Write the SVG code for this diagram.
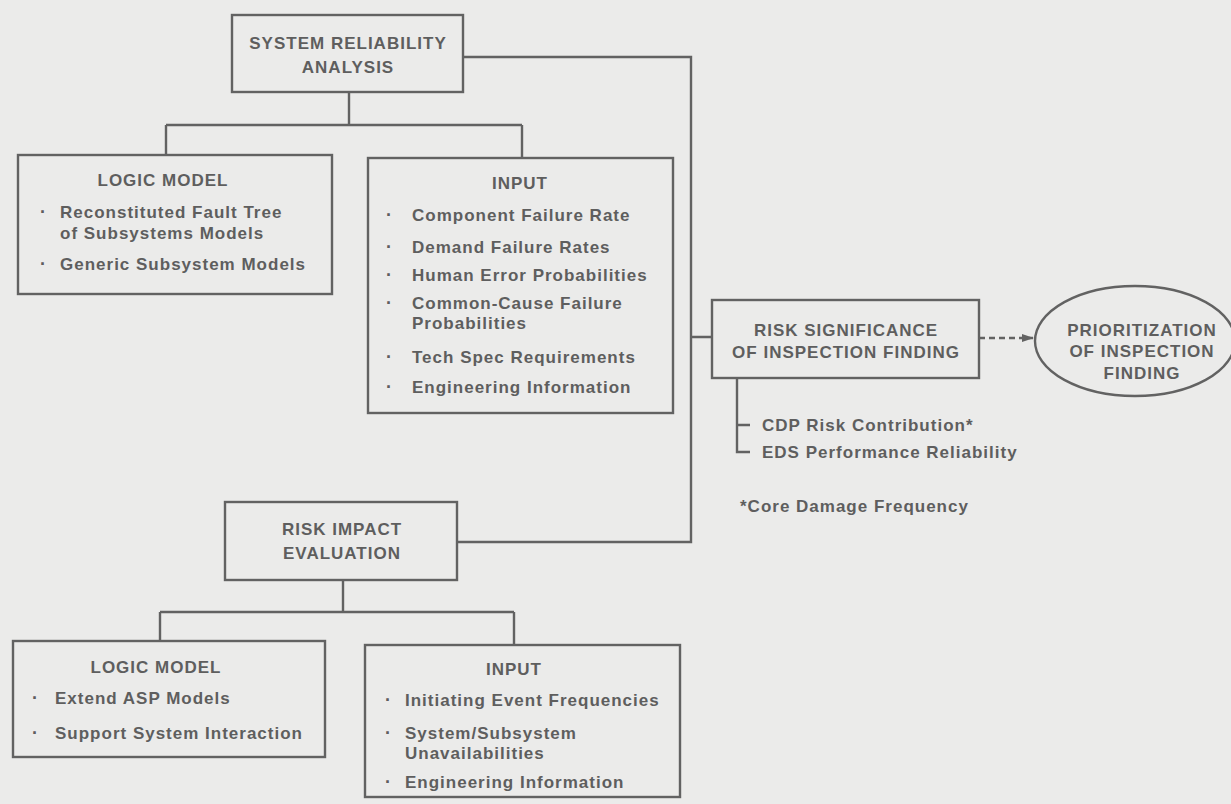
<svg xmlns="http://www.w3.org/2000/svg" width="1231" height="804" viewBox="0 0 1231 804">
<defs>
<style>
.bg{fill:#ebebea}
.box{fill:none;stroke:#626262;stroke-width:2.4}
.ln{fill:none;stroke:#626262;stroke-width:2.4}
.dash{fill:none;stroke:#626262;stroke-width:2.4;stroke-dasharray:6 4}
text{font-family:"Liberation Sans",Arial,sans-serif;font-weight:bold;font-size:17px;fill:#5e5e5e;letter-spacing:1px}
.c{text-anchor:middle}
.b{font-size:18px}
</style>
<marker id="arr" viewBox="0 0 12 10" refX="11" refY="5" markerWidth="12" markerHeight="10" markerUnits="userSpaceOnUse" orient="auto">
<path d="M0,1 L12,5 L0,9 Z" fill="#626262"/>
</marker>
</defs>
<rect class="bg" x="0" y="0" width="1231" height="804"/>
<g id="connectors">
<path class="ln" d="M349,92 V125 M166,125 H522 M166,125 V155 M522,125 V158"/>
<path class="ln" d="M463,57 H691 V542 H457 M691,337 H712"/>
<path class="ln" d="M343,580 V612 M160,612 H514 M160,612 V641 M514,612 V645"/>
<path class="ln" d="M737,378 V452 H750 M737,425 H750"/>
<path class="dash" d="M979,338 H1033" marker-end="url(#arr)"/>
</g>
<g id="system-reliability-analysis">
<rect class="box" x="232" y="15" width="231" height="77"/>
<text class="c" x="348" y="49">SYSTEM RELIABILITY</text>
<text class="c" x="348" y="73">ANALYSIS</text>
</g>
<g id="logic-model-1">
<rect class="box" x="18" y="155" width="314" height="139"/>
<text class="c" x="163" y="186">LOGIC MODEL</text>
<text class="b" x="40" y="218">·</text>
<text x="60" y="218">Reconstituted Fault Tree</text>
<text x="60" y="239">of Subsystems Models</text>
<text class="b" x="40" y="270">·</text>
<text x="60" y="270">Generic Subsystem Models</text>
</g>
<g id="input-1">
<rect class="box" x="368" y="158" width="305" height="255"/>
<text class="c" x="520" y="189">INPUT</text>
<text class="b" x="386" y="221">·</text>
<text x="412" y="221">Component Failure Rate</text>
<text class="b" x="386" y="253">·</text>
<text x="412" y="253">Demand Failure Rates</text>
<text class="b" x="386" y="281">·</text>
<text x="412" y="281">Human Error Probabilities</text>
<text class="b" x="386" y="309">·</text>
<text x="412" y="309">Common-Cause Failure</text>
<text x="412" y="329">Probabilities</text>
<text class="b" x="386" y="363">·</text>
<text x="412" y="363">Tech Spec Requirements</text>
<text class="b" x="386" y="393">·</text>
<text x="412" y="393">Engineering Information</text>
</g>
<g id="risk-significance">
<rect class="box" x="712" y="300" width="267" height="78"/>
<text class="c" x="846" y="336">RISK SIGNIFICANCE</text>
<text class="c" x="846" y="358">OF INSPECTION FINDING</text>
<text x="762" y="431">CDP Risk Contribution*</text>
<text x="762" y="458">EDS Performance Reliability</text>
<text x="740" y="512">*Core Damage Frequency</text>
</g>
<g id="prioritization">
<ellipse class="box" cx="1135" cy="341" rx="100" ry="55"/>
<text class="c" x="1142" y="336">PRIORITIZATION</text>
<text class="c" x="1142" y="357">OF INSPECTION</text>
<text class="c" x="1142" y="379">FINDING</text>
</g>
<g id="risk-impact-evaluation">
<rect class="box" x="225" y="502" width="232" height="78"/>
<text class="c" x="342" y="535">RISK IMPACT</text>
<text class="c" x="342" y="559">EVALUATION</text>
</g>
<g id="logic-model-2">
<rect class="box" x="13" y="641" width="312" height="116"/>
<text class="c" x="156" y="673">LOGIC MODEL</text>
<text class="b" x="32" y="704">·</text>
<text x="55" y="704">Extend ASP Models</text>
<text class="b" x="32" y="739">·</text>
<text x="55" y="739">Support System Interaction</text>
</g>
<g id="input-2">
<rect class="box" x="365" y="645" width="315" height="152"/>
<text class="c" x="514" y="675">INPUT</text>
<text class="b" x="385" y="706">·</text>
<text x="405" y="706">Initiating Event Frequencies</text>
<text class="b" x="385" y="739">·</text>
<text x="405" y="739">System/Subsystem</text>
<text x="405" y="759">Unavailabilities</text>
<text class="b" x="385" y="788">·</text>
<text x="405" y="788">Engineering Information</text>
</g>
</svg>
